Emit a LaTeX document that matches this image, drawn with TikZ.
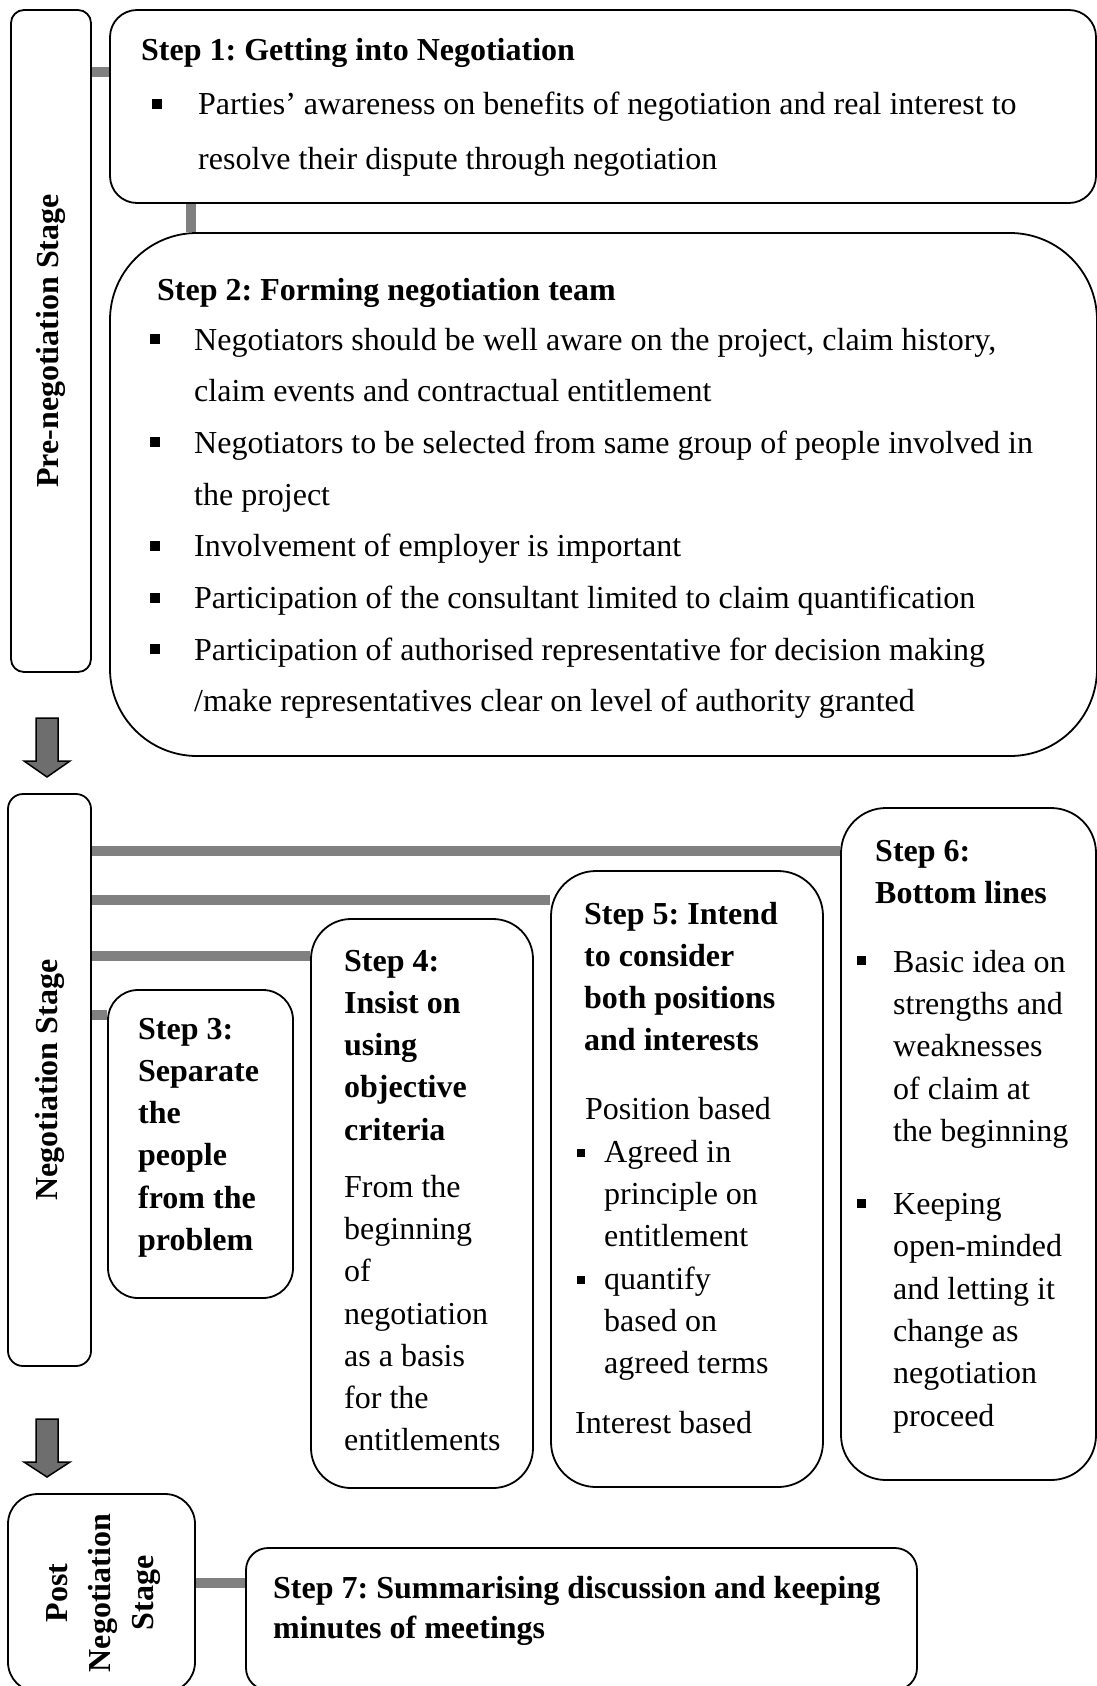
\documentclass[tikz,border=0pt]{standalone}
\usepackage{fontspec}
\setmainfont{Liberation Serif}
\usepackage{graphicx}
\usetikzlibrary{calc,backgrounds}

\definecolor{LinkGray}{RGB}{128,128,128}
\definecolor{ArrowGray}{RGB}{110,110,110}

% square bullet: size, raise
\newcommand{\sqb}[2]{\rule[#2]{#1}{#1}}
\frenchspacing

\begin{document}
\begin{tikzpicture}[x=1pt,y=-1pt,
    font=\fontsize{32}{42.3}\selectfont,
    box/.style={rectangle,draw=black,line width=1.8pt,fill=white,inner sep=0pt},
    stage/.style={box,font=\fontsize{32}{43}\selectfont\bfseries},
    txt/.style={inner sep=0pt,anchor=base west,text width=#1,align=left,
        execute at begin node={\spaceskip=0pt\xspaceskip=0pt\relax}},
    txt/.default=260pt,
    wide/.style={txt=1000pt,font=\fontsize{32}{51.7}\selectfont},
    link/.style={draw=LinkGray,line width=10pt},
    blockarrow/.style={draw=black,fill=ArrowGray,line width=1.5pt,line join=miter}
]
\useasboundingbox (0,0) rectangle (1097,1686);

% Stages (left column)
\node[stage,rounded corners=13pt,minimum width=80pt,minimum height=662pt] (pre) at (51,341) {\rotatebox{90}{Pre-negotiation Stage}};
\node[stage,rounded corners=15pt,minimum width=83pt,minimum height=572pt] (neg) at (49.5,1080) {\rotatebox{90}{Negotiation Stage}};
\node[stage,rounded corners=30pt,minimum width=187pt,minimum height=198pt] (post) at (101.5,1593) {\rotatebox{90}{\begin{tabular}{@{}c@{}}Post\\Negotiation\\Stage\end{tabular}}};

\draw[blockarrow] (36,718) -- (58,718) -- (58,761) -- (70,761) -- (47,777) -- (24,761) -- (36,761) -- cycle;
\draw[blockarrow] (36,1419) -- (58,1419) -- (58,1462) -- (70,1462) -- (47,1477) -- (24,1462) -- (36,1462) -- cycle;

% Step 1
\node[box,rounded corners=27pt,minimum width=986pt,minimum height=193pt] (s1) at (603,106.5) {};
\node[wide] (s1txt) at (141,61) {\textbf{Step 1: Getting into Negotiation}\\[2pt]
    \hspace*{11pt}\makebox[46pt][l]{\sqb{10pt}{6pt}}Parties’ awareness on benefits of negotiation and real interest to\\[3.3pt]
    \hspace*{57pt}resolve their dispute through negotiation};

% Step 2
\node[box,rounded corners=87pt,minimum width=987pt,minimum height=523pt] (s2) at (603.5,494.5) {};
\node[wide] (s2txt) at (150,300) {\hspace*{7pt}\textbf{Step 2: Forming negotiation team}\\[-1.7pt]
    \makebox[44pt][l]{\sqb{10pt}{6pt}}Negotiators should be well aware on the project, claim history,\\
    \hspace*{44pt}claim events and contractual entitlement\\
    \makebox[44pt][l]{\sqb{10pt}{6pt}}Negotiators to be selected from same group of people involved in\\
    \hspace*{44pt}the project\\
    \makebox[44pt][l]{\sqb{10pt}{6pt}}Involvement of employer is important\\
    \makebox[44pt][l]{\sqb{10pt}{6pt}}Participation of the consultant limited to claim quantification\\
    \makebox[44pt][l]{\sqb{10pt}{6pt}}Participation of authorised representative for decision making\\
    \hspace*{44pt}/make representatives clear on level of authority granted};

% Step 3
\node[box,rounded corners=30pt,minimum width=185pt,minimum height=308pt] (s3) at (200.5,1144) {};
\node[txt] (s3txt) at (138,1039) {\bfseries Step 3:\\Separate\\the\\people\\from the\\problem};

% Step 4
\node[box,rounded corners=40pt,minimum width=222pt,minimum height=569pt] (s4) at (422,1203.5) {};
\node[txt] (s4txt) at (344,971) {\bfseries Step 4:\\Insist on\\using\\objective\\criteria\\[14.6pt]
    \mdseries From the\\beginning\\of\\negotiation\\as a basis\\for the\\entitlements};

% Step 5
\node[box,rounded corners=45pt,minimum width=272pt,minimum height=616pt] (s5) at (687,1179) {};
\node[txt] (s5txt) at (584,924) {\textbf{Step 5: Intend}\\\textbf{to consider}\\\textbf{both positions}\\\textbf{and interests}\\[26.6pt]
    \hspace*{1pt}Position based\\
    \hspace*{-7pt}\makebox[27pt][l]{\sqb{8pt}{5pt}}Agreed in\\
    \hspace*{20pt}principle on\\
    \hspace*{20pt}entitlement\\
    \hspace*{-7pt}\makebox[27pt][l]{\sqb{8pt}{5pt}}quantify\\
    \hspace*{20pt}based on\\
    \hspace*{20pt}agreed terms\\[17.6pt]
    \hspace*{-9pt}Interest based};

% Step 6
\node[box,rounded corners=45pt,minimum width=255pt,minimum height=672pt] (s6) at (968.5,1144) {};
\node[txt] (s6txt) at (857,861) {\hspace*{18pt}\textbf{Step 6:}\\\hspace*{18pt}\textbf{Bottom lines}\\[26.7pt]
    \makebox[36pt][l]{\sqb{9pt}{7pt}}Basic idea on\\
    \hspace*{36pt}strengths and\\
    \hspace*{36pt}weaknesses\\
    \hspace*{36pt}of claim at\\
    \hspace*{36pt}the beginning\\[30.7pt]
    \makebox[36pt][l]{\sqb{9pt}{7pt}}Keeping\\
    \hspace*{36pt}open-minded\\
    \hspace*{36pt}and letting it\\
    \hspace*{36pt}change as\\
    \hspace*{36pt}negotiation\\
    \hspace*{36pt}proceed};

% Step 7
\node[box,rounded corners=22pt,minimum width=671pt,minimum height=142pt] (s7) at (581.5,1619) {};
\node[txt=650pt,font=\fontsize{32}{40}\selectfont] (s7txt) at (273,1598) {\bfseries Step 7: Summarising discussion and keeping\\minutes of meetings};

% Links
\begin{scope}[on background layer]
\draw[link] (pre.east |- 0,72) -- (s1.west |- 0,72);
\draw[link] (s1.south -| 191,0) -- (s2.north -| 191,0);
\draw[link] (neg.east |- 0,851) -- (s6.west |- 0,851);
\draw[link] (neg.east |- 0,900) -- (s5.west |- 0,900);
\draw[link] (neg.east |- 0,956) -- (s4.west |- 0,956);
\draw[link] (neg.east |- 0,1015) -- (s3.west |- 0,1015);
\draw[link] (post.east |- 0,1583) -- (s7.west |- 0,1583);
\end{scope}

\end{tikzpicture}
\end{document}
